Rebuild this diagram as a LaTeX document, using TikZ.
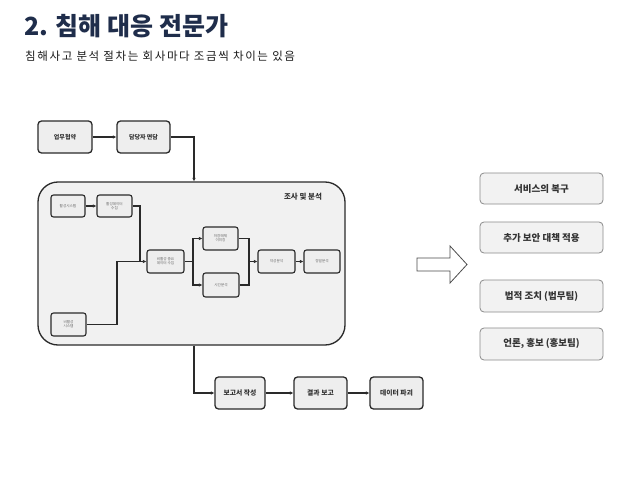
\documentclass[tikz,border=0pt]{standalone}
\usepackage{fontspec}
\setmainfont{Noto Sans CJK KR}
\usetikzlibrary{arrows.meta}
\definecolor{navy}{HTML}{1F2D4B}
\definecolor{boxfill}{HTML}{EEEEEE}
\definecolor{ctrfill}{HTML}{F1F1F1}
\definecolor{rfill}{HTML}{F2F2F2}
\definecolor{rline}{HTML}{8A8A8A}
\definecolor{dline}{HTML}{2A2A2A}
\tikzset{
  lbox/.style={draw=dline, line width=1.3pt, fill=boxfill, rounded corners=3.5pt, inner sep=0pt, align=center, font=\fontsize{6}{7}\selectfont\bfseries, text=black!80},
  sbox/.style={draw=dline, line width=1.1pt, fill=boxfill, rounded corners=2.5pt, inner sep=0pt, align=center, font=\fontsize{3.6}{4.2}\selectfont, text=black!60},
  rbox/.style={draw=rline, line width=0.8pt, fill=rfill, rounded corners=4pt, inner sep=0pt, font=\fontsize{9.5}{11}\selectfont\bfseries, text=black!80},
  ctrbox/.style={draw=dline, line width=1.3pt, fill=ctrfill, rounded corners=20pt, inner sep=0pt},
  conn/.style={draw=dline, line width=1.3pt},
  arr/.style={conn, -{Latex[length=3.5pt,width=3.5pt]}},
}
\begin{document}
\begin{tikzpicture}[x=1pt,y=-1pt]
\useasboundingbox[fill=white] (0,0) rectangle (638,479);
% titles
\node[anchor=base west, inner sep=0pt, text=navy, font=\fontsize{25}{30}\selectfont\bfseries] (title) at (24,35) {2. 침해 대응 전문가};
\node[anchor=base west, inner sep=0pt, text=black!90, font=\fontsize{11.5}{13}\selectfont\addfontfeatures{LetterSpace=14}] (sub) at (25,60) {침해사고 분석 절차는 회사마다 조금씩 차이는 있음};

% top row
\node[lbox, minimum width=54pt, minimum height=32pt] (mou) at (65,137) {업무협약};
\node[lbox, minimum width=53pt, minimum height=32pt] (itv) at (143.5,137) {담당자 면담};
\draw[arr] (mou.east) -- (itv.west);

% container
\node[ctrbox, minimum width=307pt, minimum height=163pt] (ctr) at (191.5,263.5) {};
\node[inner sep=0pt, font=\fontsize{7.5}{9}\selectfont\bfseries, text=black!80] (ctrl) at (303,197) {조사 및 분석};
\coordinate (t1) at (194,137);
\draw[arr] (itv.east) -- (t1) -- (t1 |- ctr.north);

% inner boxes
\node[sbox, minimum width=34pt, minimum height=22pt] (as) at (68,206) {활성시스템};
\node[sbox, minimum width=35pt, minimum height=22pt] (ad) at (114.5,206) {활성데이터\\수집};
\node[sbox, minimum width=35pt, minimum height=23pt] (ns) at (68.5,324.5) {비활성\\시스템};
\node[sbox, minimum width=37pt, minimum height=23pt] (nv) at (165.5,261.5) {비활성 중요\\데이터 수집};
\node[sbox, minimum width=35pt, minimum height=23pt] (im) at (220.5,238.5) {저장매체\\이미징};
\node[sbox, minimum width=36pt, minimum height=24pt] (ti) at (221,285) {시간분석};
\node[sbox, minimum width=37pt, minimum height=23pt] (mal) at (276.5,261.5) {악성분석};
\node[sbox, minimum width=36pt, minimum height=23pt] (pre) at (322,261.5) {정밀분석};

\coordinate (j1) at (140,261.5);
\coordinate (j2) at (117,261.5);
\coordinate (j3) at (193,261.5);
\coordinate (j4) at (249,261.5);
\draw[arr] (as.east) -- (ad.west);
\draw[conn] (ad.east) -| (j1);
\draw[conn] (ns.east) -| (j2) -- (j1);
\draw[arr] (j1) -- (nv.west);
\draw[conn] (nv.east) -- (j3);
\draw[arr] (j3) |- (im.west);
\draw[arr] (j3) |- (ti.west);
\draw[conn] (im.east) -| (j4);
\draw[conn] (ti.east) -| (j4);
\draw[arr] (j4) -- (mal.west);
\draw[arr] (mal.east) -- (pre.west);

% bottom row
\node[lbox, minimum width=50pt, minimum height=32pt, font=\fontsize{6.8}{8}\selectfont\bfseries] (rep) at (240,393) {보고서 작성};
\node[lbox, minimum width=53pt, minimum height=32pt, font=\fontsize{6.8}{8}\selectfont\bfseries] (res) at (320.5,393) {결과 보고};
\node[lbox, minimum width=53pt, minimum height=32pt, font=\fontsize{6.8}{8}\selectfont\bfseries] (des) at (396.5,393) {데이터 파괴};
\coordinate (c1) at (194,393);
\draw[arr] (c1 |- ctr.south) -- (c1) -- (rep.west);
\draw[arr] (rep.east) -- (res.west);
\draw[arr] (res.east) -- (des.west);

% hollow arrow
\draw[draw=black!70, line width=0.8pt, fill=white, line join=miter]
  (417,258) -- (450,258) -- (450,246) -- (467,264.5) -- (450,283) -- (450,271) -- (417,271) -- cycle;

% right boxes
\node[rbox, minimum width=123pt, minimum height=31pt] (r1) at (541.5,188.5) {서비스의 복구};
\node[rbox, minimum width=123pt, minimum height=31pt] (r2) at (541.5,237.5) {추가 보안 대책 적용};
\node[rbox, minimum width=123pt, minimum height=32pt] (r3) at (541.5,296) {법적 조치 (법무팀)};
\node[rbox, minimum width=123pt, minimum height=32pt] (r4) at (541.5,344) {언론, 홍보 (홍보팀)};
\end{tikzpicture}
\end{document}
